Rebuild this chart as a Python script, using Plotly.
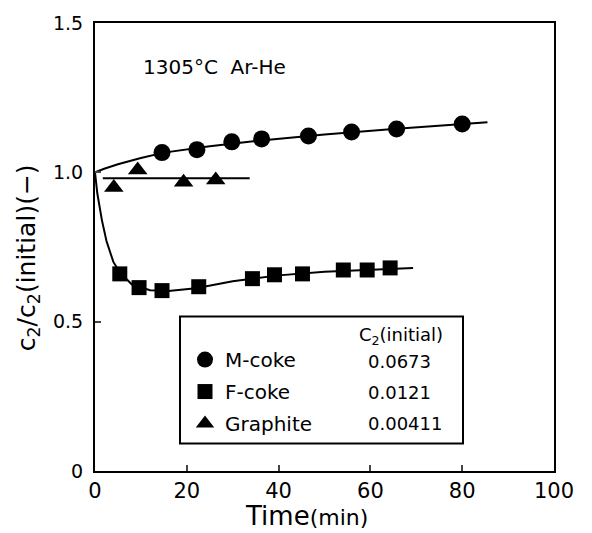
import plotly.graph_objects as go

# Measured points
m_x = [14.6, 22.2, 29.8, 36.3, 46.5, 55.9, 65.7, 80.0]
m_y = [1.066, 1.076, 1.102, 1.112, 1.122, 1.135, 1.145, 1.162]

f_x = [5.4, 9.6, 14.6, 22.6, 34.3, 39.1, 45.2, 54.1, 59.3, 64.3]
f_y = [0.660, 0.614, 0.604, 0.617, 0.644, 0.657, 0.660, 0.673, 0.673, 0.680]

g_x = [4.1, 9.3, 19.3, 26.3]
g_y = [0.949, 1.008, 0.967, 0.974]

# Hand-drawn trend curves
m_cx = [0, 2, 5, 10, 15, 25, 35, 50, 65, 80, 85.5]
m_cy = [1.0, 1.012, 1.027, 1.048, 1.066, 1.087, 1.105, 1.127, 1.145, 1.162, 1.168]

f_cx = [0, 0.5, 1.5, 2.5, 4.0, 5.4, 8, 12, 16, 22, 30, 40, 50, 60, 69.3]
f_cy = [1.0, 0.93, 0.84, 0.77, 0.70, 0.665, 0.625, 0.605, 0.603, 0.612, 0.635, 0.655, 0.667, 0.675, 0.68]

g_cx = [1.7, 33.7]
g_cy = [0.98, 0.98]

series_names = ["M-coke", "F-coke", "Graphite"]
c2_initial = ["0.0673", "0.0121", "0.00411"]

x_ticks = [0, 20, 40, 60, 80, 100]
y_ticks = [0, 0.5, 1.0, 1.5]
y_ticktext = ["0", "0.5", "1.0", "1.5"]

FONT = "DejaVu Sans"
fig = go.Figure()

for cx, cy in [(m_cx, m_cy), (f_cx, f_cy), (g_cx, g_cy)]:
    fig.add_trace(go.Scatter(x=cx, y=cy, mode="lines", line=dict(color="black", width=2),
                             showlegend=False, hoverinfo="skip"))

sym = ["circle", "square", "triangle-up"]
sizes = [17, 15, 17]
for i, (xs, ys) in enumerate([(m_x, m_y), (f_x, f_y), (g_x, g_y)]):
    fig.add_trace(go.Scatter(x=xs, y=ys, mode="markers", name=series_names[i],
                             legendgroup=series_names[i],
                             marker=dict(symbol=sym[i], size=sizes[i], color="black"),
                             cliponaxis=False))

W, H = 592, 533
L, R, T, B = 95, 38, 16, 62
pw, ph = W - L - R, H - T - B

def px2paper(px, py):
    return (px - L) / pw, (H - B - py) / ph

fig.update_layout(
    width=W, height=H,
    margin=dict(l=L, r=R, t=T, b=B),
    paper_bgcolor="white", plot_bgcolor="white",
    font=dict(family=FONT, color="black"),
    showlegend=True,
    legend=dict(x=px2paper(185, 0)[0], y=px2paper(0, 338)[1], xanchor="left", yanchor="top",
                bgcolor="rgba(0,0,0,0)", borderwidth=0,
                font=dict(size=20, family=FONT), tracegroupgap=3, itemwidth=30),
    xaxis=dict(range=[0, 100], tickvals=x_ticks, ticks="inside", ticklen=6, tickwidth=1.5,
               showline=True, linewidth=2, linecolor="black", mirror=True,
               showgrid=False, zeroline=False, tickfont=dict(size=21, family=FONT)),
    yaxis=dict(range=[0, 1.5], tickvals=y_ticks, ticktext=y_ticktext, ticks="inside",
               ticklen=6, tickwidth=1.5,
               showline=True, linewidth=2, linecolor="black", mirror=True,
               showgrid=False, zeroline=False, tickfont=dict(size=19, family=FONT),
               ticklabelstandoff=6),
)

# legend frame
x0, y0 = px2paper(180, 443)
x1, y1 = px2paper(463, 314)
fig.add_shape(type="rect", xref="paper", yref="paper", x0=x0, y0=y0, x1=x1, y1=y1,
              line=dict(color="black", width=2), fillcolor="rgba(0,0,0,0)")

def note(px, py, text, size, xanchor="center", angle=0):
    ax, ay = px2paper(px, py)
    fig.add_annotation(xref="paper", yref="paper", x=ax, y=ay, text=text,
                       xanchor=xanchor, yanchor="middle", textangle=angle,
                       showarrow=False, font=dict(size=size, family=FONT))

note(401, 334, "C<sub>2</sub>(initial)", 18)
for v, py in zip(c2_initial, [360, 391, 423]):
    note(366, py, v, 18, xanchor="left")

note(214, 61, "1305°C  Ar-He", 20)
note(306, 517, "Time<span style='font-size:22px'>(min)</span>", 26)
note(28, 255, "c<sub>2</sub>/c<sub>2</sub>(initial)(−)", 25, angle=-90)

fig.write_html("out.html")
